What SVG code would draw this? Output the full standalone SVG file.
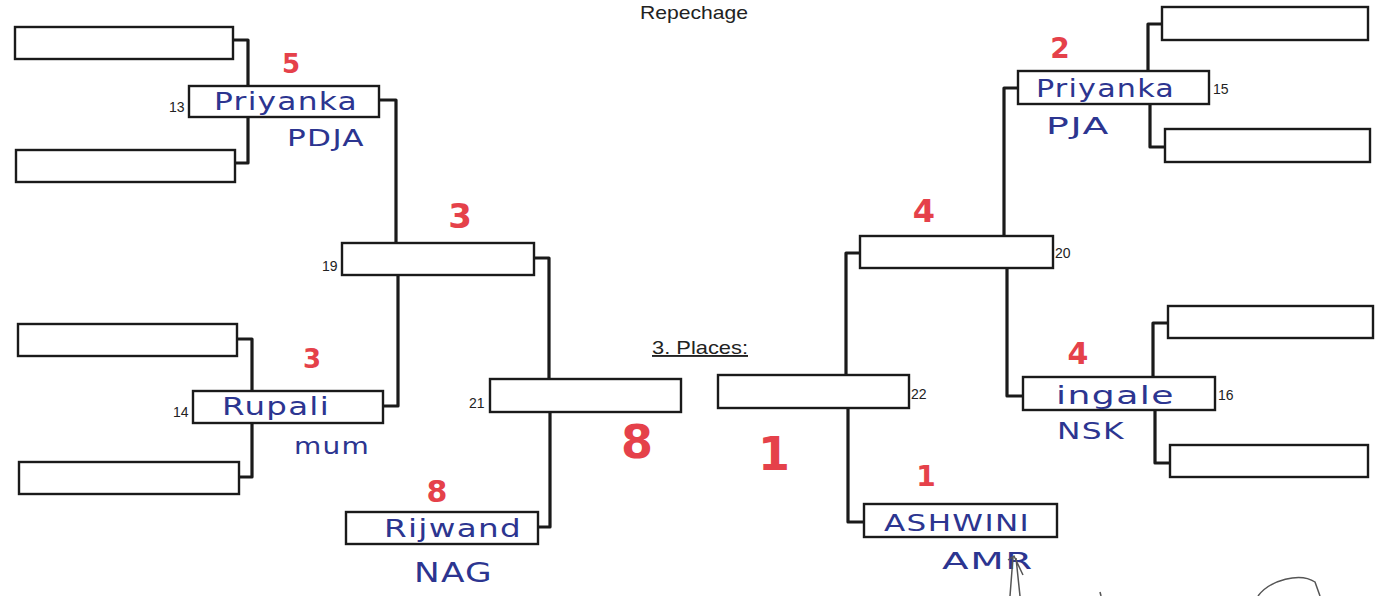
<svg xmlns="http://www.w3.org/2000/svg" width="1383" height="596" viewBox="0 0 1383 596">
<style>
.box{fill:#fff;stroke:#1a1a1a;stroke-width:2.4}
.con{fill:none;stroke:#1a1a1a;stroke-width:3.2;stroke-linejoin:round}
.num{font-family:"Liberation Sans",Arial,sans-serif;font-size:14px;fill:#222}
.hdr{font-family:"Liberation Sans",Arial,sans-serif;font-size:19px;fill:#222}
.hand{font-family:"DejaVu Sans","Noto Sans",sans-serif;fill:#2c3590;letter-spacing:1px}
.red{font-family:"DejaVu Sans","Noto Sans",sans-serif;font-weight:bold;fill:#e5414a;text-anchor:middle}
.pen{fill:none;stroke:#555;stroke-width:1.5}
</style>
<rect width="1383" height="596" fill="#fff"/>
<text class="hdr" x="640" y="19" textLength="108" lengthAdjust="spacingAndGlyphs">Repechage</text>
<text class="hdr" x="652" y="354" textLength="96" lengthAdjust="spacingAndGlyphs" text-decoration="underline">3. Places:</text>
<g id="connectors">
<path class="con" d="M233 40 H248 V88"/>
<path class="con" d="M235 163 H248 V117"/>
<path class="con" d="M379 100 H396 V243"/>
<path class="con" d="M237 339 H252 V392"/>
<path class="con" d="M239 477 H252 V423"/>
<path class="con" d="M383 406 H398 V275"/>
<path class="con" d="M534 258 H549 V379"/>
<path class="con" d="M538 527 H550 V412"/>
<path class="con" d="M860 253 H846 V376"/>
<path class="con" d="M864 522 H848 V409"/>
<path class="con" d="M1018 88 H1004 V235"/>
<path class="con" d="M1023 396 H1007 V268"/>
<path class="con" d="M1162 24 H1148 V71"/>
<path class="con" d="M1165 147 H1150 V104"/>
<path class="con" d="M1168 323 H1153 V377"/>
<path class="con" d="M1170 463 H1155 V411"/>
</g>
<g id="L1"><rect class="box" x="15" y="27" width="218" height="32"/></g>
<g id="L2"><rect class="box" x="16" y="150" width="219" height="32"/></g>
<g id="L3"><rect class="box" x="18" y="324" width="219" height="32"/></g>
<g id="L4"><rect class="box" x="19" y="462" width="220" height="32"/></g>
<g id="n13"><rect class="box" x="189" y="86" width="190" height="31"/><text class="num" x="169" y="112">13</text>
<text class="hand" x="214" y="110" font-size="25" textLength="144" lengthAdjust="spacingAndGlyphs">Priyanka</text><text class="hand" x="287" y="146" font-size="23" textLength="78" lengthAdjust="spacingAndGlyphs">PDJA</text></g>
<g id="n14"><rect class="box" x="193" y="391" width="190" height="32"/><text class="num" x="173" y="417">14</text>
<text class="hand" x="222" y="415" font-size="25" textLength="108" lengthAdjust="spacingAndGlyphs">Rupali</text><text class="hand" x="294" y="454" font-size="23" textLength="76" lengthAdjust="spacingAndGlyphs">mum</text></g>
<g id="n19"><rect class="box" x="342" y="243" width="192" height="32"/><text class="num" x="322" y="271">19</text></g>
<g id="n21"><rect class="box" x="490" y="379" width="191" height="33"/><text class="num" x="469" y="408">21</text></g>
<g id="rijwand"><rect class="box" x="346" y="512" width="192" height="32"/>
<text class="hand" x="384" y="537" font-size="25" textLength="138" lengthAdjust="spacingAndGlyphs">Rijwand</text><text class="hand" x="414" y="582" font-size="27" textLength="79" lengthAdjust="spacingAndGlyphs">NAG</text></g>
<g id="n22"><rect class="box" x="718" y="375" width="191" height="33"/><text class="num" x="911" y="399">22</text></g>
<g id="ashwini"><rect class="box" x="864" y="504" width="193" height="33"/>
<text class="hand" x="884" y="531" font-size="23" textLength="146" lengthAdjust="spacingAndGlyphs">ASHWINI</text><text class="hand" x="942" y="569" font-size="23" textLength="92" lengthAdjust="spacingAndGlyphs">AMR</text></g>
<g id="n20"><rect class="box" x="860" y="236" width="193" height="32"/><text class="num" x="1055" y="258">20</text></g>
<g id="n15"><rect class="box" x="1018" y="71" width="191" height="33"/><text class="num" x="1213" y="94">15</text>
<text class="hand" x="1036" y="97" font-size="25" textLength="139" lengthAdjust="spacingAndGlyphs">Priyanka</text><text class="hand" x="1046" y="134" font-size="23" textLength="64" lengthAdjust="spacingAndGlyphs">PJA</text></g>
<g id="n16"><rect class="box" x="1023" y="377" width="192" height="33"/><text class="num" x="1218" y="400">16</text>
<text class="hand" x="1056" y="404" font-size="25" textLength="119" lengthAdjust="spacingAndGlyphs">ingale</text><text class="hand" x="1057" y="439" font-size="23" textLength="68" lengthAdjust="spacingAndGlyphs">NSK</text></g>
<g id="R1"><rect class="box" x="1162" y="7" width="206" height="33"/></g>
<g id="R2"><rect class="box" x="1165" y="129" width="205" height="33"/></g>
<g id="R3"><rect class="box" x="1168" y="306" width="205" height="32"/></g>
<g id="R4"><rect class="box" x="1170" y="445" width="198" height="32"/></g>
<g id="marks">
<text class="red" x="291" y="73" font-size="26">5</text>
<text class="red" x="460" y="228" font-size="34">3</text>
<text class="red" x="312" y="368" font-size="26">3</text>
<text class="red" x="637" y="458" font-size="46">8</text>
<text class="red" x="437" y="502" font-size="30">8</text>
<text class="red" x="774" y="470" font-size="46">1</text>
<text class="red" x="926" y="486" font-size="28">1</text>
<text class="red" x="1060" y="58" font-size="28">2</text>
<text class="red" x="924" y="222" font-size="32">4</text>
<text class="red" x="1078" y="364" font-size="30">4</text>
<path class="pen" d="M1010 596 L1013 557 M1016 558 L1020 596 M1008 560 L1014 556 L1023 575"/>
<path class="pen" d="M1100 592 L1101 596"/>
<path class="pen" d="M1258 596 C1270 580 1300 572 1315 582 L1320 596"/>
</g>
</svg>
